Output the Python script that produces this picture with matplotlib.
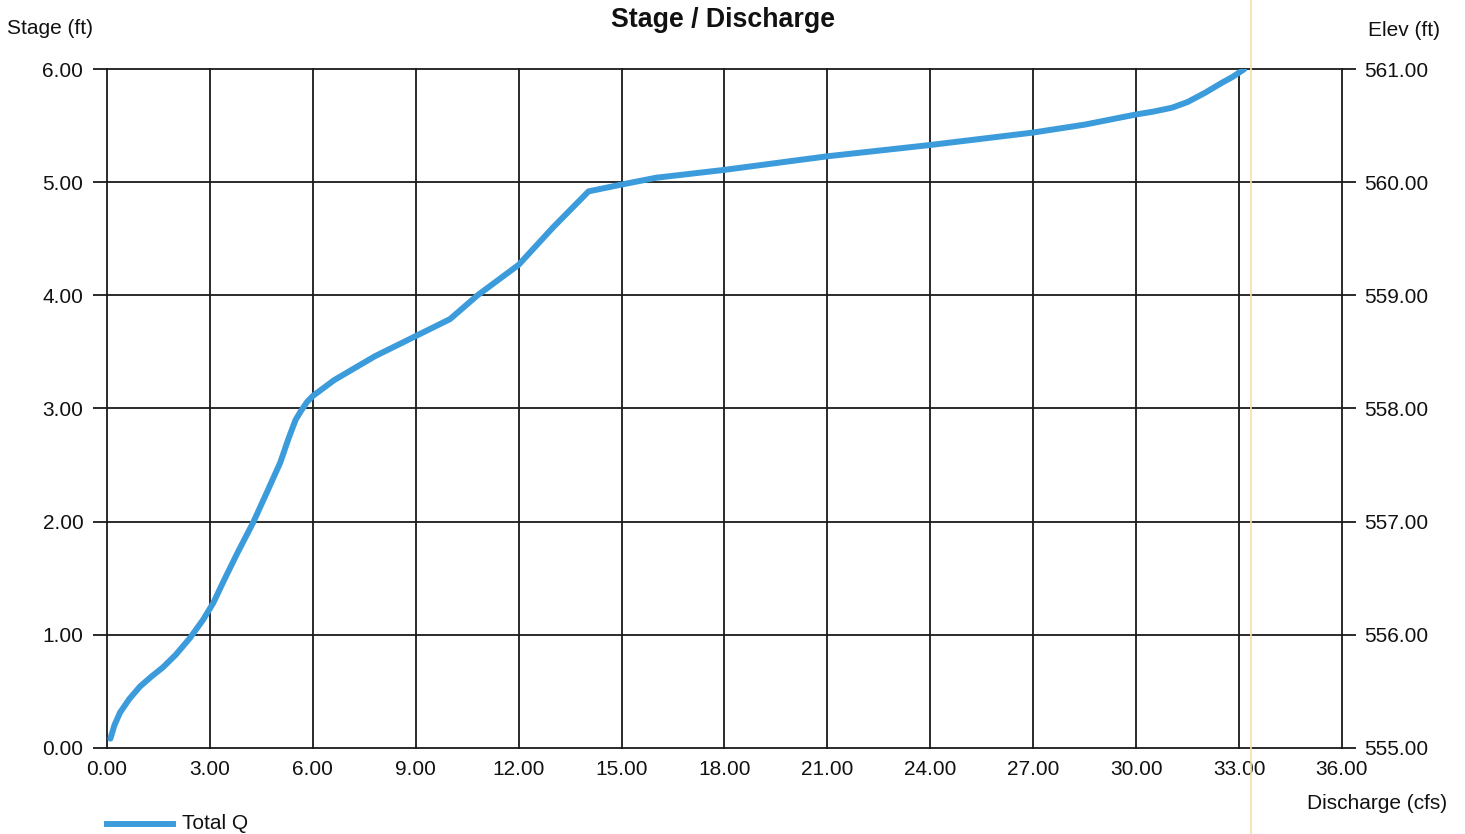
import matplotlib
matplotlib.use("Agg")
import matplotlib.pyplot as plt
from matplotlib.lines import Line2D
from matplotlib.transforms import blended_transform_factory

plt.rcParams["font.family"] = ["Liberation Sans", "DejaVu Sans"]

# Stage / discharge rating curve
discharge_cfs = [0.10, 0.22, 0.38, 0.65, 0.96, 1.30, 1.63, 2.00, 2.42, 2.80,
                 3.10, 3.38, 3.80, 4.26, 4.65, 5.05, 5.30, 5.50, 5.66, 5.84,
                 6.00, 6.62, 7.80, 9.00, 10.00, 10.80, 12.00, 13.00, 14.04,
                 15.00, 16.00, 18.00, 21.00, 24.00, 27.00, 28.50, 30.00,
                 30.50, 31.05, 31.50, 32.00, 32.50, 32.80, 33.15]
stage_ft = [0.08, 0.20, 0.31, 0.43, 0.54, 0.63, 0.71, 0.82, 0.97, 1.13,
            1.28, 1.46, 1.72, 1.99, 2.25, 2.52, 2.74, 2.90, 2.98, 3.06,
            3.11, 3.25, 3.46, 3.64, 3.79, 4.00, 4.27, 4.60, 4.92,
            4.98, 5.04, 5.11, 5.23, 5.33, 5.44, 5.51, 5.60,
            5.625, 5.66, 5.71, 5.79, 5.88, 5.93, 6.00]

x_ticks = [0, 3, 6, 9, 12, 15, 18, 21, 24, 27, 30, 33, 36]
stage_ticks = [0, 1, 2, 3, 4, 5, 6]
base_elev = 555.0

fig = plt.figure(figsize=(14.65, 8.34), dpi=100)
ax = fig.add_axes([0.073, 0.1035, 0.843, 0.8135])

ax.plot(discharge_cfs, stage_ft, color="#3c9cdb", lw=4.3,
        solid_capstyle="round", solid_joinstyle="round", zorder=3,
        label="Total Q")

ax.set_xlim(0, 36)
ax.set_ylim(0, 6)
ax.set_xticks(x_ticks)
ax.set_xticklabels([f"{v:.2f}" for v in x_ticks])
ax.set_yticks(stage_ticks)
ax.set_yticklabels([f"{v:.2f}" for v in stage_ticks])
ax.grid(True, color="#1a1a1a", lw=1.3)
for gl in ax.get_xgridlines() + ax.get_ygridlines():
    gl.set_clip_on(False)
for s in ax.spines.values():
    s.set_visible(False)
ax.tick_params(axis="x", length=0, labelsize=15, pad=9, colors="#111111")
ax.tick_params(axis="y", length=10, width=1.3, labelsize=15, pad=7,
               color="#1a1a1a", labelcolor="#111111")

ax2 = ax.twinx()
ax2.set_ylim(base_elev, base_elev + 6)
ax2.set_yticks([base_elev + v for v in stage_ticks])
ax2.set_yticklabels([f"{base_elev + v:.2f}" for v in stage_ticks])
for s in ax2.spines.values():
    s.set_visible(False)
ax2.tick_params(axis="y", length=10, width=1.3, labelsize=15, pad=6,
                color="#1a1a1a", labelcolor="#111111")

fig.text(0.4935, 0.976, "Stage / Discharge", ha="center", va="center",
         fontsize=19.3, fontweight="bold", color="#111111")
fig.text(0.005, 0.966, "Stage (ft)", ha="left", va="center", fontsize=15,
         color="#111111")
fig.text(0.983, 0.964, "Elev (ft)", ha="right", va="center", fontsize=15,
         color="#111111")
fig.text(0.988, 0.036, "Discharge (cfs)", ha="right", va="center",
         fontsize=15, color="#111111")

# legend entry below the plot
fig.add_artist(Line2D([0.073, 0.118], [0.012, 0.012], color="#3c9cdb",
                      lw=4.3, transform=fig.transFigure))
fig.text(0.124, 0.012, "Total Q", ha="left", va="center", fontsize=15,
         color="#111111")

# faint vertical marker line through the full height
tr = blended_transform_factory(ax.transData, fig.transFigure)
fig.add_artist(Line2D([33.35, 33.35], [0, 1], color="#f5e2a8", lw=1.2,
                      transform=tr, zorder=5))

fig.savefig("out.png", dpi=100, facecolor="white")
